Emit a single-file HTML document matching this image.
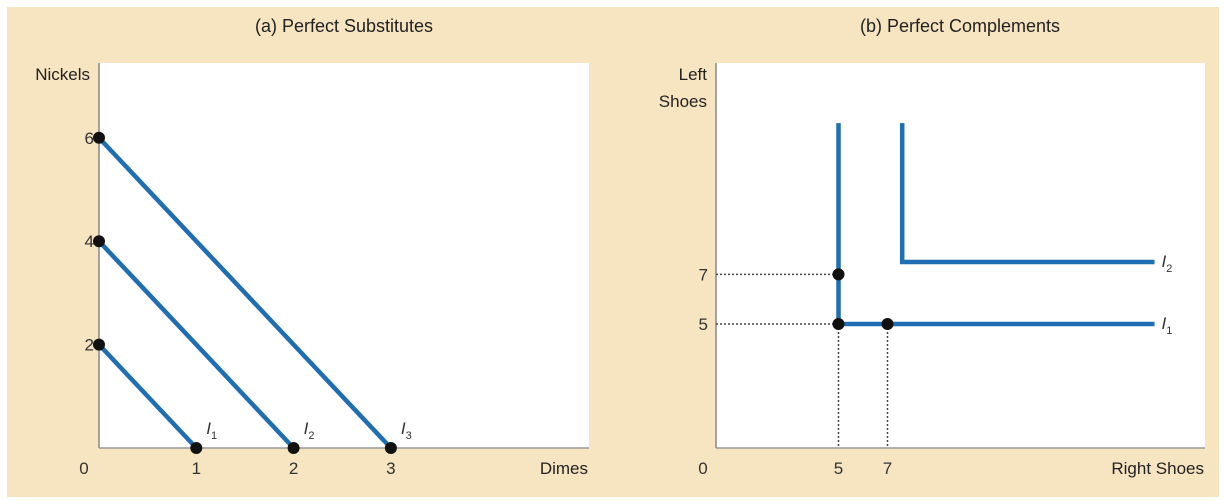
<!DOCTYPE html>
<html><head><meta charset="utf-8"><style>
body{margin:0;background:#fff;}
svg{display:block;font-family:"Liberation Sans Narrow","Liberation Sans",sans-serif;}
</style></head><body>
<svg id="c" width="1224" height="501" xmlns="http://www.w3.org/2000/svg">
<rect x="7" y="7" width="1212" height="490" fill="#f7e4c0"/>
<text x="344" y="32" font-size="18" text-anchor="middle" fill="#222">(a) Perfect Substitutes</text>
<text x="960" y="32" font-size="18" text-anchor="middle" fill="#222">(b) Perfect Complements</text>
<rect x="99" y="63" width="490" height="385" fill="#fff"/>
<rect x="716" y="63" width="489" height="385" fill="#fff"/>
<g id="ga"></g><g id="gb"></g>
</svg>
<script>
const subsCurves=["1","2","3"];
const subsIntercepts=[1,2,3];   // Dimes intercept
const subsNickels=[2,4,6];      // Nickels intercept
const subsXTicks=[0,1,2,3];
const subsYTicks=[2,4,6];
const compCurves=["1","2"];
const compCornerX=[5,7.6];
const compCornerY=[5,7.5];
const compPointsX=[5,5,7];
const compPointsY=[5,7,5];
const compTicks=[5,7];
const compTop=13.1, compRight=17.9;
const NS="http://www.w3.org/2000/svg";
const BLUE="#1f6db3";
function mk(p,t,a){const e=document.createElementNS(NS,t);for(const k in a)e.setAttribute(k,a[k]);p.appendChild(e);return e;}
// Panel A
const ax=v=>99+v*97.3, ay=v=>448-v*51.7;
const ga=document.getElementById('ga');
let e=mk(ga,'line',{x1:99,y1:63,x2:99,y2:448,stroke:'#888','stroke-width':1.5});

e=mk(ga,'line',{x1:99,y1:448,x2:589,y2:448,stroke:'#999','stroke-width':1.5});

subsCurves.forEach((c,i)=>{
 let l=mk(ga,'line',{x1:ax(0),y1:ay(subsNickels[i]),x2:ax(subsIntercepts[i]),y2:ay(0),stroke:BLUE,'stroke-width':4.5});
 
 [[0,subsNickels[i]],[subsIntercepts[i],0]].forEach(p=>{let d=mk(ga,'circle',{cx:ax(p[0]),cy:ay(p[1]),r:6,fill:'#111'});
 });
 let t=mk(ga,'text',{x:ax(subsIntercepts[i])+10,y:ay(0)-14,'font-size':17,'font-style':'italic',fill:'#333'});
 
 t.innerHTML='I<tspan font-size="11" font-style="normal" dy="5">'+c+'</tspan>';
});
subsXTicks.forEach(v=>{let t=mk(ga,'text',{x:v===0?84:ax(v),y:474,'font-size':17,'text-anchor':'middle',fill:'#333'});t.textContent=v;
 });
subsYTicks.forEach(v=>{let t=mk(ga,'text',{x:94,y:ay(v)+6,'font-size':17,'text-anchor':'end',fill:'#333'});t.textContent=v;
 });
e=mk(ga,'text',{x:90,y:80,'font-size':17,'text-anchor':'end',fill:'#222'});e.textContent='Nickels';

e=mk(ga,'text',{x:588,y:474,'font-size':17,'text-anchor':'end',fill:'#222'});e.textContent='Dimes';

// Panel B
const bx=v=>716+v*24.5, by=v=>448-v*24.8;
const gb=document.getElementById('gb');
e=mk(gb,'line',{x1:716,y1:63,x2:716,y2:448,stroke:'#888','stroke-width':1.5});

e=mk(gb,'line',{x1:716,y1:448,x2:1205,y2:448,stroke:'#999','stroke-width':1.5});

compTicks.forEach(v=>{
 let d=mk(gb,'line',{x1:bx(v),y1:by(5),x2:bx(v),y2:448,stroke:'#444','stroke-width':1.5,'stroke-dasharray':'2,2'});
 
 d=mk(gb,'line',{x1:716,y1:by(v),x2:bx(5),y2:by(v),stroke:'#444','stroke-width':1.5,'stroke-dasharray':'2,2'});
 
 let t=mk(gb,'text',{x:bx(v),y:474,'font-size':17,'text-anchor':'middle',fill:'#333'});t.textContent=v;
 
 t=mk(gb,'text',{x:708,y:by(v)+6,'font-size':17,'text-anchor':'end',fill:'#333'});t.textContent=v;
 
});
compCurves.forEach((c,i)=>{
 let p=mk(gb,'polyline',{points:`${bx(compCornerX[i])},${by(compTop)} ${bx(compCornerX[i])},${by(compCornerY[i])} ${bx(compRight)},${by(compCornerY[i])}`,fill:'none',stroke:BLUE,'stroke-width':4.5});
 
 let t=mk(gb,'text',{x:bx(compRight)+7,y:by(compCornerY[i])+5,'font-size':17,'font-style':'italic',fill:'#333'});
 
 t.innerHTML='I<tspan font-size="11" font-style="normal" dy="5">'+c+'</tspan>';
});
compPointsX.forEach((x,i)=>{let d=mk(gb,'circle',{cx:bx(x),cy:by(compPointsY[i]),r:6,fill:'#111'});
 });
e=mk(gb,'text',{x:703,y:474,'font-size':17,'text-anchor':'middle',fill:'#333'});e.textContent='0';

e=mk(gb,'text',{x:707,y:80,'font-size':17,'text-anchor':'end',fill:'#222'});e.textContent='Left';

e=mk(gb,'text',{x:707,y:107,'font-size':17,'text-anchor':'end',fill:'#222'});e.textContent='Shoes';

e=mk(gb,'text',{x:1204,y:474,'font-size':17,'text-anchor':'end',fill:'#222'});e.textContent='Right Shoes';

</script>
</body></html>
